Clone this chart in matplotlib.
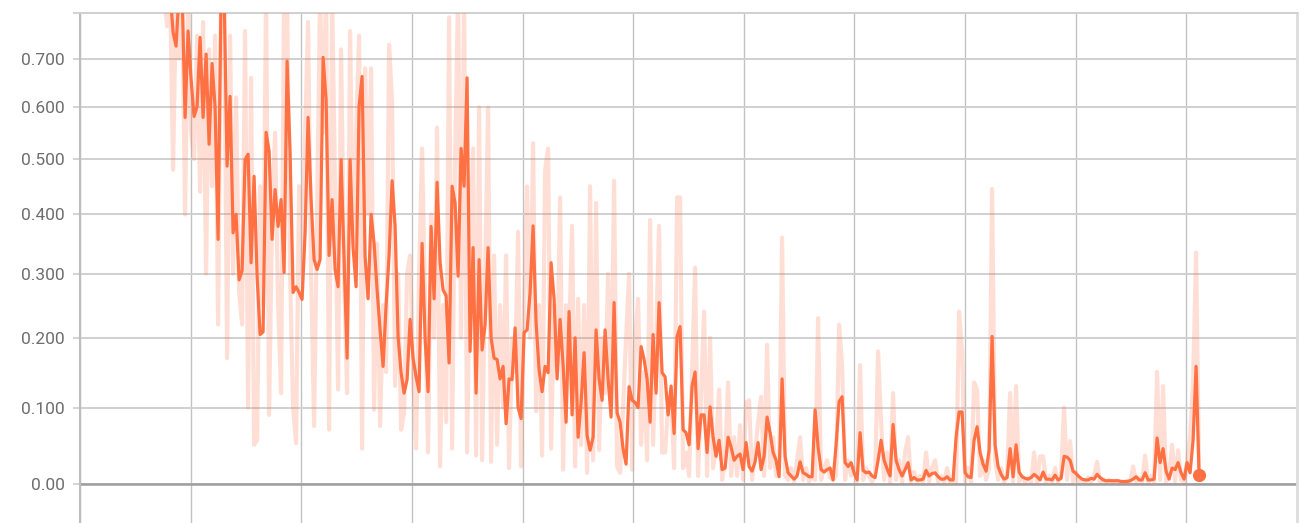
import numpy as np
import matplotlib
matplotlib.use("Agg")
import matplotlib.pyplot as plt
from matplotlib.ticker import MultipleLocator, NullFormatter

# training steps of first and last logged point
FIRST_STEP = 1520
LAST_STEP = 20230

# smoothed curve (dark orange)
smoothed = [
    0.85, 0.85, 0.85, 0.757, 0.727, 0.85, 0.85, 0.580, 0.760, 0.657,
    0.582, 0.602, 0.746, 0.580, 0.710, 0.528, 0.690, 0.600, 0.357, 0.85,
    0.85, 0.487, 0.622, 0.368, 0.400, 0.290, 0.305, 0.499, 0.509, 0.318,
    0.468, 0.296, 0.205, 0.209, 0.551, 0.515, 0.357, 0.444, 0.379, 0.426,
    0.302, 0.695, 0.513, 0.270, 0.279, 0.270, 0.259, 0.368, 0.580, 0.426,
    0.323, 0.307, 0.323, 0.703, 0.616, 0.330, 0.426, 0.307, 0.279, 0.499,
    0.323, 0.170, 0.499, 0.343, 0.279, 0.602, 0.663, 0.328, 0.260, 0.400,
    0.350, 0.274, 0.212, 0.158, 0.250, 0.330, 0.460, 0.380, 0.202, 0.149,
    0.120, 0.139, 0.228, 0.170, 0.143, 0.122, 0.350, 0.200, 0.122, 0.379,
    0.260, 0.457, 0.318, 0.274, 0.265, 0.163, 0.450, 0.420, 0.296, 0.520,
    0.450, 0.660, 0.180, 0.343, 0.120, 0.323, 0.182, 0.220, 0.343, 0.200,
    0.170, 0.168, 0.140, 0.158, 0.078, 0.140, 0.139, 0.215, 0.100, 0.085,
    0.208, 0.212, 0.270, 0.380, 0.223, 0.153, 0.122, 0.158, 0.149, 0.318,
    0.260, 0.140, 0.228, 0.160, 0.080, 0.240, 0.090, 0.200, 0.060, 0.107,
    0.178, 0.062, 0.043, 0.060, 0.212, 0.140, 0.110, 0.212, 0.140, 0.087,
    0.254, 0.093, 0.080, 0.045, 0.025, 0.129, 0.110, 0.107, 0.100, 0.187,
    0.168, 0.140, 0.080, 0.205, 0.120, 0.254, 0.149, 0.143, 0.090, 0.130,
    0.065, 0.202, 0.217, 0.070, 0.066, 0.050, 0.130, 0.150, 0.045, 0.090,
    0.090, 0.040, 0.101, 0.060, 0.035, 0.056, 0.018, 0.020, 0.060, 0.047,
    0.030, 0.035, 0.038, 0.018, 0.053, 0.022, 0.016, 0.028, 0.053, 0.018,
    0.035, 0.087, 0.066, 0.040, 0.030, 0.009, 0.140, 0.035, 0.014, 0.010,
    0.006, 0.010, 0.028, 0.014, 0.012, 0.009, 0.009, 0.097, 0.047, 0.018,
    0.015, 0.018, 0.020, 0.005, 0.050, 0.108, 0.115, 0.027, 0.022, 0.027,
    0.014, 0.005, 0.066, 0.017, 0.014, 0.015, 0.010, 0.008, 0.030, 0.056,
    0.030, 0.019, 0.010, 0.077, 0.030, 0.018, 0.010, 0.018, 0.027, 0.005,
    0.008, 0.005, 0.005, 0.006, 0.017, 0.010, 0.013, 0.014, 0.009, 0.006,
    0.006, 0.009, 0.005, 0.005, 0.060, 0.094, 0.094, 0.014, 0.009, 0.008,
    0.056, 0.074, 0.040, 0.025, 0.016, 0.043, 0.202, 0.050, 0.022, 0.012,
    0.006, 0.008, 0.045, 0.009, 0.050, 0.015, 0.009, 0.007, 0.006, 0.008,
    0.012, 0.009, 0.005, 0.015, 0.006, 0.006, 0.005, 0.011, 0.005, 0.007,
    0.035, 0.034, 0.030, 0.016, 0.013, 0.009, 0.006, 0.005, 0.005, 0.007,
    0.006, 0.012, 0.008, 0.005, 0.004, 0.004, 0.004, 0.004, 0.004, 0.003,
    0.003, 0.003, 0.004, 0.006, 0.009, 0.005, 0.005, 0.014, 0.005, 0.005,
    0.006, 0.059, 0.027, 0.045, 0.016, 0.006, 0.020, 0.018, 0.027, 0.014,
    0.006, 0.027, 0.014, 0.056, 0.158, 0.011,
]

# raw values (light)
raw = [
    0.85, 0.77, 0.85, 0.48, 0.85, 0.70, 0.85, 0.40, 0.85, 0.55,
    0.50, 0.75, 0.44, 0.78, 0.30, 0.72, 0.45, 0.75, 0.22, 0.85,
    0.85, 0.17, 0.75, 0.30, 0.62, 0.27, 0.22, 0.76, 0.10, 0.66,
    0.05, 0.056, 0.45, 0.25, 0.85, 0.09, 0.40, 0.55, 0.25, 0.12,
    0.85, 0.85, 0.30, 0.10, 0.052, 0.45, 0.30, 0.55, 0.78, 0.30,
    0.075, 0.40, 0.85, 0.55, 0.85, 0.07, 0.85, 0.45, 0.125, 0.72,
    0.30, 0.12, 0.76, 0.35, 0.55, 0.75, 0.045, 0.68, 0.40, 0.68,
    0.097, 0.35, 0.075, 0.25, 0.15, 0.73, 0.61, 0.13, 0.30, 0.07,
    0.093, 0.30, 0.33, 0.15, 0.045, 0.30, 0.52, 0.25, 0.04, 0.40,
    0.20, 0.56, 0.022, 0.25, 0.08, 0.79, 0.045, 0.50, 0.85, 0.20,
    0.85, 0.04, 0.35, 0.52, 0.036, 0.60, 0.03, 0.30, 0.60, 0.028,
    0.33, 0.05, 0.25, 0.10, 0.33, 0.02, 0.20, 0.15, 0.37, 0.022,
    0.25, 0.45, 0.20, 0.53, 0.095, 0.25, 0.036, 0.48, 0.52, 0.045,
    0.25, 0.15, 0.43, 0.018, 0.25, 0.20, 0.38, 0.022, 0.26, 0.05,
    0.25, 0.014, 0.45, 0.03, 0.42, 0.043, 0.20, 0.12, 0.30, 0.10,
    0.46, 0.022, 0.014, 0.10, 0.20, 0.30, 0.018, 0.20, 0.26, 0.05,
    0.15, 0.03, 0.39, 0.05, 0.20, 0.38, 0.04, 0.04, 0.10, 0.12,
    0.02, 0.43, 0.43, 0.02, 0.04, 0.01, 0.15, 0.31, 0.01, 0.12,
    0.24, 0.01, 0.20, 0.02, 0.05, 0.125, 0.005, 0.03, 0.135, 0.01,
    0.06, 0.01, 0.076, 0.005, 0.107, 0.11, 0.005, 0.04, 0.08, 0.115,
    0.01, 0.19, 0.02, 0.06, 0.01, 0.02, 0.36, 0.01, 0.005, 0.02,
    0.003, 0.03, 0.06, 0.005, 0.02, 0.003, 0.01, 0.005, 0.23, 0.005,
    0.02, 0.03, 0.008, 0.005, 0.01, 0.22, 0.16, 0.005, 0.03, 0.01,
    0.02, 0.003, 0.16, 0.005, 0.02, 0.01, 0.003, 0.01, 0.18, 0.08,
    0.005, 0.04, 0.002, 0.12, 0.005, 0.03, 0.002, 0.04, 0.06, 0.002,
    0.015, 0.002, 0.01, 0.002, 0.04, 0.003, 0.02, 0.03, 0.003, 0.01,
    0.002, 0.02, 0.002, 0.005, 0.002, 0.24, 0.18, 0.003, 0.02, 0.002,
    0.135, 0.125, 0.01, 0.03, 0.005, 0.02, 0.445, 0.03, 0.005, 0.02,
    0.002, 0.01, 0.12, 0.003, 0.13, 0.003, 0.01, 0.002, 0.008, 0.002,
    0.04, 0.002, 0.035, 0.035, 0.002, 0.01, 0.002, 0.02, 0.002, 0.01,
    0.10, 0.005, 0.055, 0.003, 0.015, 0.003, 0.005, 0.002, 0.008, 0.002,
    0.01, 0.028, 0.002, 0.006, 0.002, 0.005, 0.002, 0.004, 0.002, 0.003,
    0.002, 0.004, 0.002, 0.022, 0.002, 0.008, 0.002, 0.036, 0.002, 0.01,
    0.003, 0.15, 0.005, 0.13, 0.003, 0.01, 0.05, 0.003, 0.043, 0.005,
    0.002, 0.03, 0.06, 0.136, 0.335, 0.01,
]

y_ticks = [0.0, 0.1, 0.2, 0.3, 0.4, 0.5, 0.6, 0.7, 0.8]
y_labels = ["0.00", "0.100", "0.200", "0.300", "0.400", "0.500", "0.600", "0.700", ""]

ORANGE = "#ff7043"

plt.rcParams["font.family"] = ["Roboto", "DejaVu Sans"]

fig = plt.figure(figsize=(13.12, 5.23), dpi=100)
ax = fig.add_axes([80 / 1312, 0.0, 1217 / 1312, 1 - 13 / 523])

x_raw = np.linspace(FIRST_STEP, LAST_STEP, len(raw))
x_smooth = np.linspace(FIRST_STEP, LAST_STEP, len(smoothed))

ax.plot(x_raw, raw, color=ORANGE, alpha=0.22, lw=3.0, zorder=3)
ax.plot(x_smooth, smoothed, color=ORANGE, lw=2.3, zorder=4)
ax.plot(x_smooth[-1], smoothed[-1], "o", color=ORANGE, ms=8.5, zorder=5)

# log(1 + x) axis like the TensorBoard view
ax.set_yscale("function", functions=(np.log1p, np.expm1))
ax.set_ylim(-0.0476, 0.8)
ax.set_xlim(0, 22000)

ax.set_yticks(y_ticks)
ax.set_yticklabels(y_labels)
ax.xaxis.set_major_locator(MultipleLocator(2000))
ax.xaxis.set_major_formatter(NullFormatter())

ax.grid(True, axis="y", color="#d0d0d0", lw=1.4)
ax.grid(True, axis="x", color="#c2c2c2", lw=1.0)
ax.set_axisbelow(True)
ax.axhline(0, color="#9e9e9e", lw=1.8, zorder=2)

ax.tick_params(axis="y", length=5, width=1.2, color="#cccccc", pad=6,
               labelsize=12.5, labelcolor="#6e6e6e")
ax.tick_params(axis="x", length=0)

ax.spines["left"].set_color("#bdbdbd")
ax.spines["left"].set_linewidth(1.5)
ax.spines["top"].set_color("#d0d0d0")
ax.spines["top"].set_linewidth(1.4)
ax.spines["right"].set_color("#dddddd")
ax.spines["right"].set_linewidth(2.0)
ax.spines["bottom"].set_visible(False)

fig.savefig("out.png", dpi=100)
